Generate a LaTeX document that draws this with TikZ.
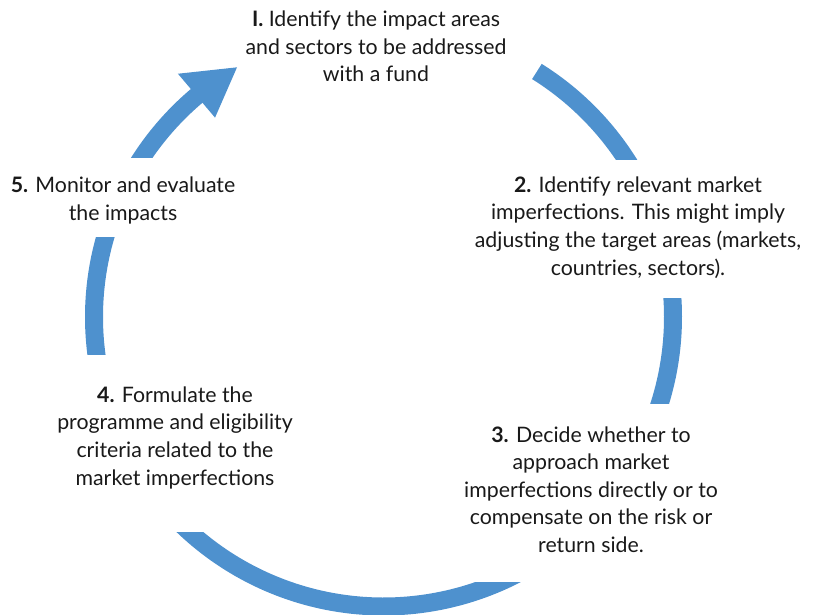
\documentclass[tikz,border=0pt]{standalone}
\usepackage{fontspec}
\setmainfont{Lato}
\definecolor{cycleblue}{RGB}{78,145,206}
\definecolor{txtcol}{RGB}{25,25,25}
\begin{document}
\begin{tikzpicture}[x=1pt,y=1pt,
  ring/.style={draw=cycleblue,line width=18pt},
  stepbox/.style={align=center,inner sep=0pt,anchor=base,text=txtcol,
    font=\fontsize{21.3}{27.6}\selectfont}]
\useasboundingbox (0,0) rectangle (817,-615);
\coordinate (c) at (383.5,-317);
% text blocks (positioned at the baseline of their last line)
\node[stepbox] (s1) at (376,-82) {\textbf{I.} Identify the impact areas\\and sectors to be addressed\\with a fund};
\node[stepbox] (s2) at (638,-275) {\textbf{2.} Identify relevant market\\imperfections. This might imply\\adjusting the target areas (markets,\\countries, sectors).};
\node[stepbox] (s3) at (591,-552.5) {\textbf{3.} Decide whether to\\approach market\\imperfections directly or to\\compensate on the risk or\\return side.};
\node[stepbox] (s4) at (175,-485) {\textbf{4.} Formulate the\\programme and eligibility\\criteria related to the\\market imperfections};
\node[stepbox] (s5) at (123,-220) {\textbf{5.} Monitor and evaluate\\the impacts};
% arc 1 -> 2
\begin{scope}
  \clip (0,-160) rectangle (817,0);
  \draw[ring] ([shift={(58:289.5)}]c) arc[start angle=58,end angle=20,radius=289.5];
\end{scope}
% arc 2 -> 3
\begin{scope}
  \clip (0,-298) rectangle (817,-403);
  \draw[ring] ([shift={(15:289.5)}]c) arc[start angle=15,end angle=-30,radius=289.5];
\end{scope}
% arc 3 -> 4
\begin{scope}
  \clip (383.5,-582) rectangle (817,-640) (0,-532) rectangle (383.5,-640);
  \draw[ring] ([shift={(-50:289.5)}]c) arc[start angle=-50,end angle=-145,radius=289.5];
\end{scope}
% arc 4 -> 5
\begin{scope}
  \clip (0,-237) rectangle (817,-354);
  \draw[ring] ([shift={(160:289.5)}]c) arc[start angle=160,end angle=200,radius=289.5];
\end{scope}
% arrow 5 -> 1
\begin{scope}
  \clip (0,-158) rectangle (817,0);
  \draw[ring] ([shift={(155:289.5)}]c) arc[start angle=155,end angle=129.5,radius=289.5];
\end{scope}
\fill[cycleblue] ([shift={(130.2:318.5)}]c) -- ([shift={(120.4:289.5)}]c) -- ([shift={(130.2:261)}]c) -- cycle;
\end{tikzpicture}
\end{document}
